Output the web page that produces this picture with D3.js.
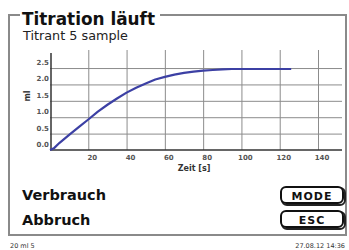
<!DOCTYPE html>
<html>
<head>
<meta charset="utf-8">
<script src="https://cdn.jsdelivr.net/npm/d3@7"></script>
<style>
  body { margin: 0; background: #fff; }
  svg { display: block; }
  text { font-family: "DejaVu Sans", sans-serif; }
</style>
</head>
<body>
<div id="graph"></div>
<script>
// titration curve: time [s] vs volume [ml]
var times  = [0, 2, 5, 10, 15, 20, 25, 30, 35, 40, 45, 50, 55, 60, 65, 70, 75, 80, 85, 90, 95, 100, 110, 120, 126]
var volume = [0, 0.05, 0.22, 0.46, 0.7, 0.93, 1.17, 1.38, 1.57, 1.75, 1.9, 2.03, 2.15, 2.23, 2.3, 2.35, 2.39, 2.42, 2.44, 2.46, 2.47, 2.47, 2.47, 2.47, 2.47]
var xTicks = [20, 40, 60, 80, 100, 120, 140]
var yTicks = [0, 0.5, 1.0, 1.5, 2.0, 2.5]

var title = "Titration läuft"
var subtitle = "Titrant 5 sample"
var xLabel = "Zeit [s]"
var yLabel = "ml"
var rows = ["Verbrauch", "Abbruch"]
var buttons = ["MODE", "ESC"]
var footLeft = "20 ml  5"
var footRight = "27.08.12 14:36"

var width = 349, height = 250
var margin = {top: 50, left: 50, bottom: 100, right: 7}
var chartWidth = width - margin.left - margin.right
var chartHeight = height - margin.top - margin.bottom

var svg = d3.select("#graph").append("svg")
    .attr("width", width).attr("height", height)

// outer frame with gap for the title
var frame = svg.append("g").attr("stroke", "#8a8a8a").attr("stroke-width", 2).attr("fill", "none")
frame.append("path").attr("d", "M20,15 H9 V235 H346 V15 H160")

svg.append("text").attr("x", 22).attr("y", 25)
    .attr("font-size", 17).attr("font-weight", "bold").attr("fill", "#111")
    .attr("textLength", 133).attr("lengthAdjust", "spacingAndGlyphs")
    .text(title)
svg.append("text").attr("x", 23).attr("y", 40)
    .attr("font-size", 11.5).attr("fill", "#222")
    .attr("textLength", 105).attr("lengthAdjust", "spacingAndGlyphs")
    .text(subtitle)

var x = d3.scaleLinear().domain([0, 140]).range([50, 318])
var y = d3.scaleLinear().domain([0, 3.05]).range([150, 50])

var chart = svg.append("g")

// grid
chart.append("g").attr("transform", "translate(0,150)")
    .call(d3.axisBottom(x).tickValues(xTicks).tickSize(-100).tickFormat(""))
    .call(function(g) {
        g.select(".domain").remove()
        g.selectAll("line").attr("stroke", "#8c8c8c")
    })
chart.append("g").attr("transform", "translate(50,0)")
    .call(d3.axisLeft(y).tickValues(yTicks.slice(1)).tickSize(-292).tickFormat(""))
    .call(function(g) {
        g.select(".domain").remove()
        g.selectAll("line").attr("stroke", "#8c8c8c")
    })

// axes lines
chart.append("line").attr("x1", 50).attr("x2", 342).attr("y1", 150).attr("y2", 150)
    .attr("stroke", "#333").attr("stroke-width", 1.5)
chart.append("line").attr("x1", 51).attr("x2", 51).attr("y1", 53).attr("y2", 150)
    .attr("stroke", "#333").attr("stroke-width", 1.5)

// tick labels
chart.append("g").selectAll("text").data(xTicks).enter().append("text")
    .attr("x", function(d) { return x(d) + 4 })
    .attr("y", 160)
    .attr("text-anchor", "middle").attr("font-size", 7).attr("font-weight", "bold").attr("fill", "#555")
    .text(function(d) { return d })
chart.append("g").selectAll("text").data(yTicks).enter().append("text")
    .attr("x", 49)
    .attr("y", function(d) { return y(d) - 3 })
    .attr("text-anchor", "end").attr("font-size", 7).attr("font-weight", "bold").attr("fill", "#555")
    .text(function(d) { return d3.format(".1f")(d) })

svg.append("text").attr("x", 194).attr("y", 171)
    .attr("text-anchor", "middle").attr("font-size", 8).attr("font-weight", "bold").attr("fill", "#333")
    .text(xLabel)
svg.append("text").attr("transform", "translate(30,96) rotate(-90)")
    .attr("text-anchor", "middle").attr("font-size", 8).attr("font-weight", "bold").attr("fill", "#333")
    .text(yLabel)

// curve
var line = d3.line()
    .x(function(d, i) { return x(times[i]) })
    .y(function(d) { return y(d) })
chart.append("path").datum(volume)
    .attr("d", line)
    .attr("fill", "none").attr("stroke", "#3c40a4").attr("stroke-width", 2.2)
    .attr("stroke-linejoin", "round")

// rows
svg.append("g").selectAll("text").data(rows).enter().append("text")
    .attr("x", 22)
    .attr("y", function(d, i) { return 200 + i * 25 })
    .attr("font-size", 14.5).attr("font-weight", "bold").attr("fill", "#111")
    .text(function(d) { return d })

// buttons
var btn = svg.append("g").selectAll("g").data(buttons).enter().append("g")
    .attr("transform", function(d, i) { return "translate(281," + (187 + i * 24) + ")" })
btn.append("rect").attr("x", 1).attr("y", 1).attr("width", 63).attr("height", 17).attr("rx", 5)
    .attr("fill", "none").attr("stroke", "#222").attr("stroke-width", 2)
btn.append("rect").attr("width", 62).attr("height", 16).attr("rx", 5)
    .attr("fill", "#fff").attr("stroke", "#111").attr("stroke-width", 2)
btn.append("text").attr("x", 31).attr("y", 12.5)
    .attr("text-anchor", "middle").attr("font-size", 11).attr("font-weight", "bold").attr("fill", "#111")
    .attr("letter-spacing", 1)
    .text(function(d) { return d })

// footer
svg.append("text").attr("x", 10).attr("y", 248)
    .attr("font-size", 6.5).attr("fill", "#333").text(footLeft)
svg.append("text").attr("x", 345).attr("y", 248).attr("text-anchor", "end")
    .attr("font-size", 6.5).attr("fill", "#333").text(footRight)
</script>
</body>
</html>
